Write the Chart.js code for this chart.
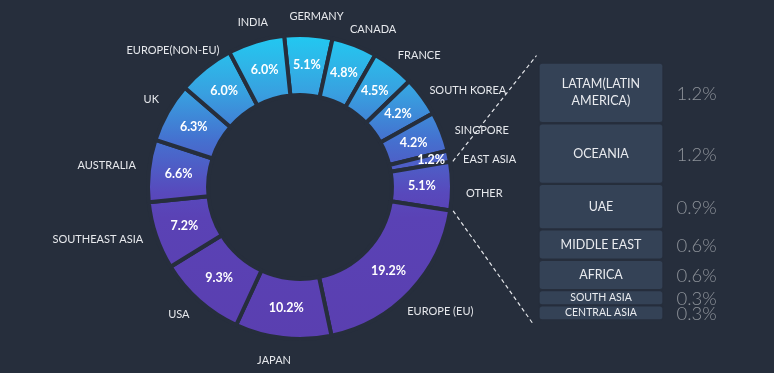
<!DOCTYPE html>
<html>
<head>
<meta charset="utf-8">
<script src="https://cdn.jsdelivr.net/npm/chart.js@4.4.1/dist/chart.umd.min.js"></script>
<style>
  html, body { margin: 0; padding: 0; background: #262e3c; }
  #wrap { position: relative; width: 774px; height: 373px; overflow: hidden; }
  #wrap canvas { position: absolute; left: 0; top: 0; }
</style>
</head>
<body>
<div id="wrap">
  <canvas id="ring" width="774" height="373"></canvas>
  <canvas id="split" width="774" height="373"></canvas>
</div>
<script>
// Share by region (%), clockwise from the top
const regions = ['GERMANY', 'CANADA', 'FRANCE', 'SOUTH KOREA', 'SINGPORE', 'EAST ASIA', 'OTHER',
  'EUROPE (EU)', 'JAPAN', 'USA', 'SOUTHEAST ASIA', 'AUSTRALIA', 'UK', 'EUROPE(NON-EU)', 'INDIA'];
const shares = [5.1, 4.8, 4.5, 4.2, 4.2, 1.2, 5.1, 19.2, 10.2, 9.3, 7.2, 6.6, 6.3, 6.0, 6.0];

// Breakdown of "OTHER"
const otherRegions = ['LATAM(LATIN AMERICA)', 'OCEANIA', 'UAE', 'MIDDLE EAST', 'AFRICA', 'SOUTH ASIA', 'CENTRAL ASIA'];
const otherShares = [1.2, 1.2, 0.9, 0.6, 0.6, 0.3, 0.3];

const BG = '#262e3c';
const BOX = '#344256';
const FONT = 'Lato, "Open Sans", sans-serif';

const otherIdx = regions.indexOf('OTHER');
const otherTotal = otherShares.reduce((a, b) => a + b, 0);

// vertical cyan -> purple gradient across the whole ring
function ringGradient(context) {
    const { ctx, chartArea } = context.chart;
    if (!chartArea) return '#4a6fd0';
    const g = ctx.createLinearGradient(0, chartArea.top, 0, chartArea.bottom);
    g.addColorStop(0, '#20caf2');
    g.addColorStop(0.09, '#2db8e9');
    g.addColorStop(0.195, '#38a0e0');
    g.addColorStop(0.35, '#4570cf');
    g.addColorStop(0.52, '#5849bc');
    g.addColorStop(0.6, '#5a42b5');
    g.addColorStop(1, '#5a3fb0');
    return g;
}

const ringLabels = {
    id: 'ringLabels',
    afterDatasetsDraw(chart) {
        const { ctx } = chart;
        const arcs = chart.getDatasetMeta(0).data;
        ctx.save();
        ctx.textAlign = 'center';
        ctx.textBaseline = 'middle';
        arcs.forEach((arc, i) => {
            const p = arc.getProps(['x', 'y', 'startAngle', 'endAngle', 'outerRadius'], true);
            const mid = (p.startAngle + p.endAngle) / 2 + 0.03;
            const cos = Math.cos(mid), sin = Math.sin(mid);
            // name outside the ring
            ctx.font = '11px ' + FONT;
            ctx.fillStyle = '#e6e8ec';
            const w = ctx.measureText(regions[i]).width;
            const r = p.outerRadius + 14;
            ctx.fillText(regions[i], p.x + cos * (r + w / 2), p.y + sin * r + sin * 7 + 2);
            // value inside the ring (pushed outwards on very thin slices)
            let c = arc.tooltipPosition(true);
            if (p.endAngle - p.startAngle < 0.1) {
                const m = (p.startAngle + p.endAngle) / 2;
                c = { x: p.x + Math.cos(m) * (p.outerRadius - 18), y: p.y + Math.sin(m) * (p.outerRadius - 18) };
            }
            ctx.font = 'bold 12.5px ' + FONT;
            ctx.fillStyle = '#ffffff';
            ctx.fillText(shares[i].toFixed(1) + '%', c.x, c.y);
        });
        ctx.restore();
    }
};

const ringChart = new Chart(document.getElementById('ring'), {
    type: 'doughnut',
    data: {
        labels: regions,
        datasets: [{
            data: shares,
            backgroundColor: ringGradient,
            borderColor: BG,
            borderWidth: 4
        }]
    },
    options: {
        responsive: false,
        animation: false,
        events: [],
        rotation: -6,
        cutout: '60.5%',
        layout: { padding: { left: 146, right: 320, top: 33, bottom: 32 } },
        plugins: { legend: { display: false }, tooltip: { enabled: false } }
    },
    plugins: [ringLabels]
});

function wrapText(ctx, text, maxWidth) {
    const words = text.split(' ');
    const lines = [];
    let line = '';
    words.forEach(word => {
        const test = line ? line + ' ' + word : word;
        if (line && ctx.measureText(test).width > maxWidth) {
            lines.push(line);
            line = word;
        } else {
            line = test;
        }
    });
    lines.push(line);
    return lines;
}

const boxLabels = {
    id: 'boxLabels',
    afterDatasetsDraw(chart) {
        const { ctx } = chart;
        ctx.save();
        ctx.textBaseline = 'middle';
        otherRegions.forEach((name, i) => {
            const bar = chart.getDatasetMeta(i).data[0];
            const p = bar.getProps(['x', 'y', 'base', 'width'], true);
            const cy = (p.y + p.base) / 2;
            const h = Math.abs(p.base - p.y);
            ctx.textAlign = 'center';
            ctx.fillStyle = '#e9ebef';
            ctx.font = (h < 20 ? '10.5px ' : '12.5px ') + FONT;
            const lines = wrapText(ctx, name, p.width - 18);
            const lh = 17;
            lines.forEach((ln, k) => {
                ctx.fillText(ln, p.x, cy + (k - (lines.length - 1) / 2) * lh);
            });
            ctx.textAlign = 'left';
            ctx.fillStyle = '#8e939a';
            ctx.font = '300 18.5px ' + FONT;
            ctx.fillText(otherShares[i].toFixed(1) + '%', p.x + p.width / 2 + 13, cy + 1);
        });
        ctx.restore();
    },
    afterDraw(chart) {
        // dashed connectors from the OTHER slice to the breakdown column
        const { ctx } = chart;
        const arc = ringChart.getDatasetMeta(0).data[otherIdx];
        const a = arc.getProps(['x', 'y', 'startAngle', 'endAngle', 'outerRadius'], true);
        const first = chart.getDatasetMeta(0).data[0].getProps(['x', 'y', 'base', 'width'], true);
        const last = chart.getDatasetMeta(otherRegions.length - 1).data[0].getProps(['x', 'y', 'base', 'width'], true);
        const left = first.x - first.width / 2;
        const top = Math.min(first.y, first.base);
        const bottom = Math.max(last.y, last.base);
        const r = a.outerRadius + 3;
        ctx.save();
        ctx.strokeStyle = '#e4e6ea';
        ctx.lineWidth = 1.2;
        ctx.setLineDash([4, 3]);
        ctx.beginPath();
        ctx.moveTo(a.x + Math.cos(a.startAngle) * r, a.y + Math.sin(a.startAngle) * r);
        ctx.lineTo(left - 2, top - 7);
        ctx.moveTo(a.x + Math.cos(a.endAngle) * r, a.y + Math.sin(a.endAngle) * r);
        ctx.lineTo(left - 5, bottom + 4);
        ctx.stroke();
        ctx.restore();
    }
};

new Chart(document.getElementById('split'), {
    type: 'bar',
    data: {
        labels: ['OTHER'],
        datasets: otherRegions.map((name, i) => ({
            label: name,
            data: [otherShares[i]],
            backgroundColor: BOX,
            borderColor: BG,
            borderWidth: 1.5,
            borderSkipped: false,
            borderRadius: { topLeft: 4, topRight: 4, bottomLeft: 4, bottomRight: 4 },
            categoryPercentage: 1,
            barPercentage: 1
        }))
    },
    options: {
        responsive: false,
        animation: false,
        events: [],
        layout: { padding: { left: 538.5, right: 110.5, top: 62.5, bottom: 52.5 } },
        scales: {
            x: { stacked: true, display: false },
            y: { stacked: true, display: false, reverse: true, min: 0, max: otherTotal }
        },
        plugins: { legend: { display: false }, tooltip: { enabled: false } }
    },
    plugins: [boxLabels]
});
</script>
</body>
</html>
